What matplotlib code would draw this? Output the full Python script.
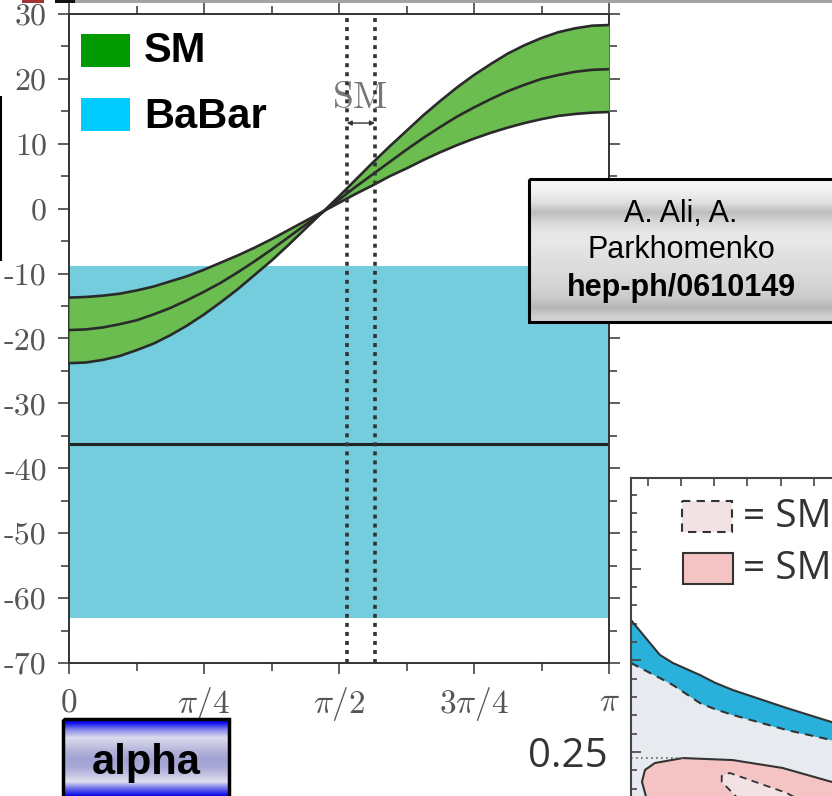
import numpy as np
import matplotlib
matplotlib.use("Agg")
import matplotlib.pyplot as plt
from matplotlib.patches import Rectangle, Polygon

plt.rcParams["mathtext.fontset"] = "cm"
plt.rcParams["axes.unicode_minus"] = False

# ── SM band vs alpha (values read at k*pi/32) ─────────────────────────────
alpha_k    = np.arange(33) * np.pi / 32
sm_central = [-18.7, -18.6, -18.3, -17.8, -17.2, -16.3, -15.3, -14.1, -12.8,
              -11.4, -9.8, -8.1, -6.3, -4.4, -2.5, -0.6, 1.4, 3.4, 5.3, 7.2,
              9.1, 10.9, 12.6, 14.2, 15.6, 16.9, 18.1, 19.1, 20.0, 20.6,
              21.1, 21.4, 21.5]
sm_edge_a  = [-13.7, -13.6, -13.4, -13.1, -12.6, -12.0, -11.2, -10.4, -9.4,
              -8.3, -7.2, -6.0, -4.7, -3.3, -1.9, -0.5, 0.9, 2.3, 3.6, 5.0,
              6.2, 7.5, 8.7, 9.8, 10.8, 11.7, 12.5, 13.2, 13.8, 14.3, 14.6,
              14.8, 14.9]
sm_edge_b  = [-23.8, -23.7, -23.3, -22.7, -21.8, -20.8, -19.5, -18.0, -16.3,
              -14.4, -12.4, -10.2, -8.0, -5.6, -3.1, -0.6, 1.9, 4.5, 7.1, 9.6,
              12.0, 14.4, 16.6, 18.7, 20.6, 22.3, 23.9, 25.2, 26.3, 27.2,
              27.8, 28.2, 28.3]

# BaBar measurement and SM alpha range
babar_central = -36.2
babar_lo      = -63.0
babar_hi      = -8.8
sm_alpha_lo   = 1.616
sm_alpha_hi   = 1.780

x_tick_labels = [r"$0$", r"$\pi/4$", r"$\pi/2$", r"$3\pi/4$", r"$\pi$"]
y_ticks       = [30, 20, 10, 0, -10, -20, -30, -40, -50, -60, -70]

# ── inset (second plot, partly visible) ───────────────────────────────────
ins_x        = [-0.5, 0.07, 0.37, 0.76, 1.57, 2.02, 2.56, 4.18, 5.54, 6.0]
ins_upper    = [0.3219, 0.3094, 0.3029, 0.2985, 0.2920, 0.2878, 0.2838,
                0.2740, 0.2663, 0.2642]
ins_lower    = [0.2985, 0.2931, 0.2903, 0.2865, 0.2767, 0.2734, 0.2702,
                0.2620, 0.2565, 0.2549]
cont_x       = [-0.02, -0.17, -0.08, 0.22, 1.06, 2.56, 4.06, 5.54, 6.0, 6.0]
cont_y       = [0.2238, 0.2337, 0.2402, 0.2440, 0.2467, 0.2456, 0.2413,
                0.2337, 0.2304, 0.2238]
inner_x      = [2.77, 2.23, 2.23, 2.47, 4.18, 4.58]
inner_y      = [0.2238, 0.2337, 0.2369, 0.2386, 0.2277, 0.2238]
ins_ref_y    = 0.2467

W, H = 832, 796
fig = plt.figure(figsize=(W / 100, H / 100), dpi=100)


def px_rect(x0, y0, x1, y1):
    return [x0 / W, 1 - y1 / H, (x1 - x0) / W, (y1 - y0) / H]


# ── main plot ─────────────────────────────────────────────────────────────
ax = fig.add_axes(px_rect(69, 14, 609, 663))
ax.axhspan(babar_lo, babar_hi, color="#74cddc", lw=0, zorder=1)
ax.axhline(babar_central, color="#222222", lw=2.2, zorder=2)
ax.fill_between(alpha_k, sm_edge_a, sm_edge_b, color="#6bbd4f", lw=0, zorder=3)
for curve in (sm_edge_a, sm_central, sm_edge_b):
    ax.plot(alpha_k, curve, color="#2a2a2a", lw=1.9, zorder=4,
            solid_joinstyle="round")
for xv in (sm_alpha_lo, sm_alpha_hi):
    ax.axvline(xv, color="#333333", lw=2.6, ls=(0, (1.1, 1.4)), zorder=6)

ax.text((sm_alpha_lo + sm_alpha_hi) / 2, 17.0, "SM", family="cmr10",
        fontsize=27, color="#777777", ha="center", va="center", zorder=5)
ax.annotate("", xy=(sm_alpha_lo, 13.2), xytext=(sm_alpha_hi, 13.2),
            arrowprops=dict(arrowstyle="<|-|>", mutation_scale=7,
                            color="#333333", lw=1, shrinkA=0, shrinkB=0),
            zorder=5)

ax.set_xlim(0, np.pi)
ax.set_ylim(-70, 30)
ax.set_xticks(np.arange(5) * np.pi / 4)
ax.set_xticklabels(x_tick_labels, fontsize=24)
ax.set_xticks(np.arange(1, 8, 2) * np.pi / 8, minor=True)
ax.set_yticks(y_ticks)
ax.set_yticklabels([str(v) for v in y_ticks], family="cmr10", fontsize=23)
ax.set_yticks(np.arange(-65, 30, 10), minor=True)
ax.tick_params(which="both", direction="out", top=True, right=True,
               color="#444444", width=1.2, labelcolor="#555555")
ax.tick_params(which="major", length=8, pad=8)
ax.tick_params(which="minor", length=5.5)
for s in ax.spines.values():
    s.set_color("#333333")
    s.set_linewidth(1.4)

# ── partial second plot at lower right ────────────────────────────────────
ins = fig.add_axes(px_rect(631, 478, 847, 800), zorder=5)
ins.set_xlim(-0.5, 6.0)
ins.set_ylim(0.22384, 0.39932)
ins.fill_between(ins_x, 0.2, ins_lower, color="#e7eaef", lw=0)
ins.fill_between(ins_x, ins_lower, ins_upper, color="#29b1dc", lw=0)
ins.plot(ins_x, ins_upper, color="#333333", lw=1.5)
ins.plot(ins_x, ins_lower, color="#333333", lw=1.5, ls=(0, (4, 3)))
ins.add_patch(Polygon(np.column_stack([cont_x, cont_y]), closed=True,
                      fc="#f4c4c4", ec="#333333", lw=1.5))
ins.add_patch(Polygon(np.column_stack([inner_x, inner_y]), closed=True,
                      fc="#f2e2e4", ec="#333333", lw=1.3, ls=(0, (4, 3))))
ins.plot([-0.5, 1.06], [ins_ref_y, ins_ref_y], color="#666666", lw=1.2,
         ls=(0, (1, 2)))
ins.xaxis.tick_top()
ins.set_xticks(range(6))
ins.set_xticklabels([])
ins.set_yticks([0.25, 0.30, 0.35])
ins.set_yticklabels(["0.25", "", ""], family="Open Sans", fontsize=29,
                    color="#333333")
ins.set_yticks(np.arange(0.23, 0.40, 0.01), minor=True)
ins.tick_params(which="both", direction="in", color="#444444", width=1.2)
ins.tick_params(axis="y", which="major", length=7, pad=17)
ins.tick_params(axis="y", which="minor", length=4)
ins.tick_params(axis="x", which="major", length=6)
for side in ("right", "bottom"):
    ins.spines[side].set_visible(False)
for side in ("left", "top"):
    ins.spines[side].set_color("#444444")
    ins.spines[side].set_linewidth(1.5)

# ── slide decorations, in pixel coordinates ───────────────────────────────
ov = fig.add_axes([0, 0, 1, 1], zorder=10)
ov.axis("off")

ov.add_patch(Rectangle((75, 0), 757, 3, color="#a3a3a3", lw=0))
ov.add_patch(Rectangle((22, 0), 22, 3, color="#a03434", lw=0))
ov.add_patch(Rectangle((55, 0), 20, 3, color="#111111", lw=0))
ov.plot([1, 1], [97, 260], color="black", lw=1.5)

# legend
ov.add_patch(Rectangle((81, 34), 49, 33, color="#009900", lw=0))
ov.add_patch(Rectangle((81, 98), 49, 33, color="#00ccff", lw=0))
ov.text(144, 51, "SM", family="Liberation Sans", fontweight="bold",
        fontsize=30, va="center")
ov.text(144, 117, "BaBar", family="Liberation Sans", fontweight="bold",
        fontsize=30, va="center")

# reference box
box_grays = [0.96, 0.93, 0.87, 0.74, 0.84, 0.90, 0.91, 0.89, 0.87, 0.86,
             0.84, 0.82, 0.79, 0.71, 0.82]
ov.imshow(np.array(box_grays)[:, None], cmap="gray", vmin=0, vmax=1,
          extent=(529, 840, 322, 179), aspect="auto", interpolation="bilinear")
ov.add_patch(Rectangle((529, 179), 320, 143, fill=False, ec="black", lw=2.2))
ov.text(681, 214, "A. Ali, A.", family="Liberation Sans", fontsize=22,
        ha="center", va="center")
ov.text(681, 250, "Parkhomenko", family="Liberation Sans", fontsize=22,
        ha="center", va="center")
ov.text(681, 288, "hep-ph/0610149", family="Liberation Sans",
        fontweight="bold", fontsize=22, ha="center", va="center")

# alpha button
btn = np.array([[0.05, 0.05, 0.95], [0.55, 0.55, 0.92], [0.86, 0.86, 0.93],
                [0.78, 0.78, 0.89], [0.69, 0.69, 0.85], [0.64, 0.64, 0.83],
                [0.66, 0.66, 0.84], [0.76, 0.76, 0.89], [0.88, 0.88, 0.94],
                [0.40, 0.40, 0.92], [0.0, 0.0, 0.90]])
ov.imshow(btn[:, None, :], extent=(63, 229, 800, 719), aspect="auto",
          interpolation="bilinear")
ov.add_patch(Rectangle((63, 719), 166, 90, fill=False, ec="black", lw=2.5))
ov.text(146, 763, "alpha", family="Liberation Sans", fontweight="bold",
        fontsize=30, ha="center", va="center")

# inset legend
ov.add_patch(Rectangle((682, 501), 50, 31, fc="#f2e2e4", ec="#333333",
                       lw=1.5, ls=(0, (4, 3))))
ov.add_patch(Rectangle((683, 553), 50, 31, fc="#f4c4c4", ec="#333333",
                       lw=1.5))
ov.text(743, 517, "= SM", family="Open Sans", fontsize=28, color="#333333",
        va="center")
ov.text(743, 569, "= SM", family="Open Sans", fontsize=28, color="#333333",
        va="center")

ov.set_xlim(0, W)
ov.set_ylim(H, 0)

fig.savefig("out.png", dpi=100)
